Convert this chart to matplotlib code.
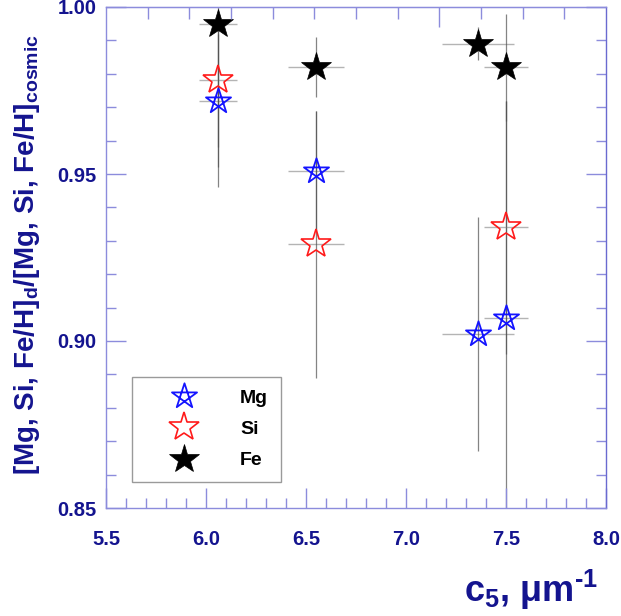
import matplotlib

matplotlib.use("Agg")

import matplotlib.pyplot as plt  # noqa: E402
import numpy as np  # noqa: E402
from matplotlib.path import Path  # noqa: E402
from matplotlib.ticker import MultipleLocator, FixedLocator, NullFormatter  # noqa: E402

plt.rcParams["font.family"] = ["Liberation Sans", "DejaVu Sans"]
plt.rcParams["font.weight"] = "bold"
plt.rcParams["mathtext.fontset"] = "custom"
plt.rcParams["mathtext.rm"] = "Liberation Sans:bold"
plt.rcParams["mathtext.bf"] = "Liberation Sans:bold"
plt.rcParams["mathtext.default"] = "rm"

# data
mg_x = [6.06, 6.55, 7.36, 7.50]
mg_y = [0.972, 0.951, 0.902, 0.907]
mg_xerr = [0.095, 0.14, 0.18, 0.11]
mg_yerr = [0.02, 0.018, 0.035, 0.065]

si_x = [6.06, 6.55, 7.50]
si_y = [0.978, 0.929, 0.934]
si_xerr = [0.095, 0.14, 0.11]
si_yerr = [0.02, 0.040, 0.038]

fe_x = [6.06, 6.55, 7.36, 7.50]
fe_y = [0.995, 0.982, 0.989, 0.982]
fe_xerr = [0.095, 0.14, 0.18, 0.11]
fe_yerr = [0.049, 0.009, 0.005, 0.016]

x_ticks = [5.5, 6.0, 6.5, 7.0, 7.5, 8.0]
y_ticks = [0.85, 0.90, 0.95, 1.00]

NAVY = "#14148f"
SPINE = "#8c8cdc"

# pentagram drawn with crossing strokes for Mg
ang = np.deg2rad(90 + 144 * np.arange(5))
verts = np.column_stack([np.cos(ang), np.sin(ang)])
verts = np.vstack([verts, verts[:1]])
pentagram = Path(verts, [Path.MOVETO] + [Path.LINETO] * 4 + [Path.CLOSEPOLY])

fig = plt.figure(figsize=(6.21, 6.16), dpi=100)
ax = fig.add_axes([106 / 621, 108 / 616, 500 / 621, 501 / 616])

series = [
    (mg_x, mg_y, mg_xerr, mg_yerr),
    (si_x, si_y, si_xerr, si_yerr),
    (fe_x, fe_y, fe_xerr, fe_yerr),
]
for xs, ys, xe, ye in series:
    ax.errorbar(xs, ys, xerr=xe, fmt="none", ecolor="#b4b4b4", elinewidth=1.0,
                capsize=0, zorder=1)
    ax.errorbar(xs, ys, yerr=ye, fmt="none", ecolor="#505050", elinewidth=0.9,
                alpha=0.7, capsize=0, zorder=1)

ax.plot(mg_x, mg_y, linestyle="none", marker=pentagram, markersize=19,
        markerfacecolor="none", markeredgecolor="#1414ff", markeredgewidth=1.3,
        label="Mg", zorder=3)
ax.plot(si_x, si_y, linestyle="none", marker="*", markersize=22,
        markerfacecolor="none", markeredgecolor="#ff1a1a", markeredgewidth=1.2,
        label="Si", zorder=3)
ax.plot(fe_x, fe_y, linestyle="none", marker="*", markersize=22,
        markerfacecolor="black", markeredgecolor="black", markeredgewidth=0.5,
        label="Fe", zorder=4)

ax.set_xlim(5.5, 8.0)
ax.set_ylim(0.85, 1.00)

ax.xaxis.set_major_locator(FixedLocator(x_ticks))
ax.xaxis.set_minor_locator(MultipleLocator(0.1))
ax.yaxis.set_major_locator(FixedLocator(y_ticks))
ax.yaxis.set_minor_locator(MultipleLocator(0.01))
ax.set_xticklabels([f"{v:.1f}" for v in x_ticks])
ax.set_yticklabels([f"{v:.2f}" for v in y_ticks])

ax.tick_params(which="both", direction="in", color=SPINE, width=1.0,
               top=False, right=True, labelcolor=NAVY, labelsize=14.5)
ax.tick_params(which="major", length=14.4)
ax.tick_params(which="minor", length=7.2)
ax.tick_params(axis="x", which="major", pad=16)
ax.tick_params(axis="y", which="major", pad=7)
for lab in ax.get_xticklabels() + ax.get_yticklabels():
    lab.set_fontweight("bold")

for side in ["left", "right", "top", "bottom"]:
    ax.spines[side].set_color(SPINE)
    ax.spines[side].set_linewidth(1.0)
ax.spines["right"].set_color("#6a6ad0")

# top axis carries its own evenly spaced ticks
top = ax.twiny()
top.set_xlim(ax.get_xlim())
step = 2.5 / 12
top.xaxis.set_major_locator(FixedLocator([5.5 + 8 * step]))
top.xaxis.set_minor_locator(FixedLocator(5.5 + step * np.arange(1, 12)))
top.xaxis.set_major_formatter(NullFormatter())
top.tick_params(which="both", direction="in", color=SPINE, width=1.0)
top.tick_params(which="major", length=14.4)
top.tick_params(which="minor", length=8.5)
for side in ["left", "right", "bottom"]:
    top.spines[side].set_visible(False)
top.spines["top"].set_color(SPINE)

ax.set_ylabel(r"[Mg, Si, Fe/H]$_{d}$/[Mg, Si, Fe/H]$_{cosmic}$",
              fontsize=20, fontweight="bold", color=NAVY)
ax.yaxis.set_label_coords(-0.128, 0.505)

fig.text(598 / 621, 1 - 590 / 616, r"c$_{5}$, $\mu$m$^{\text{-1}}$", ha="right",
         va="center", fontsize=26, fontweight="bold", color=NAVY)

leg = ax.legend(loc="lower left", bbox_to_anchor=(0.052, 0.052),
                borderaxespad=0, fancybox=False, framealpha=1,
                edgecolor="#9a9a9a", handlelength=4.0,
                handletextpad=0.9, borderpad=0.65, labelspacing=0.7,
                prop={"weight": "bold", "size": 14})
leg.get_frame().set_linewidth(1.0)

fig.savefig("out.png", dpi=100)
